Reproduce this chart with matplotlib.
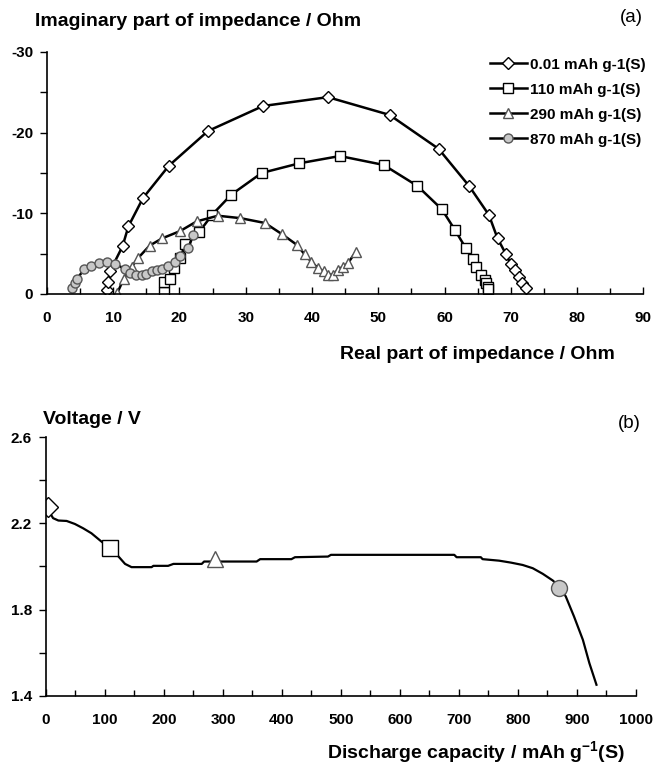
import matplotlib
matplotlib.use("Agg")
from matplotlib import pyplot as plt
from matplotlib.ticker import MultipleLocator, FixedLocator, FuncFormatter

plt.rcParams["font.family"] = ["Liberation Sans", "DejaVu Sans"]
plt.rcParams["font.weight"] = "bold"
plt.rcParams["mathtext.fontset"] = "custom"
plt.rcParams["mathtext.rm"] = "Liberation Sans:bold"
plt.rcParams["mathtext.bf"] = "Liberation Sans:bold"

# (a) Nyquist plots: real part Z' and -Z'' (Ohm)
z1_re = [9.05, 9.25, 9.5, 11.4, 12.3, 14.5, 18.4, 24.3, 32.6, 42.4, 51.7, 59.1,
         63.7, 66.7, 68.0, 69.3, 70.0, 70.6, 71.2, 71.7, 72.3]
z1_im = [0.5, 1.5, 2.8, 5.9, 8.4, 11.9, 15.9, 20.2, 23.3, 24.4, 22.2, 18.0,
         13.4, 9.8, 6.9, 4.9, 3.7, 3.0, 2.1, 1.3, 0.7]

z2_re = [17.6, 17.6, 18.6, 19.1, 20.1, 20.9, 23.0, 24.9, 27.8, 32.4, 38.1, 44.2,
         50.8, 55.9, 59.6, 61.6, 63.2, 64.3, 64.8, 65.5, 66.1, 66.3, 66.5, 66.6]
z2_im = [0.3, 1.5, 1.9, 3.2, 4.5, 6.2, 7.7, 9.8, 12.3, 15.0, 16.2, 17.1,
         16.0, 13.4, 10.5, 7.9, 5.7, 4.3, 3.3, 2.4, 1.7, 1.3, 0.9, 0.6]

z3_re = [10.6, 11.6, 12.8, 13.8, 15.5, 17.4, 20.1, 22.6, 25.8, 29.2, 32.9, 35.5,
         37.7, 38.9, 39.9, 40.9, 41.8, 42.4, 43.2, 43.9, 44.7, 45.4, 46.6]
z3_im = [0.1, 1.9, 3.4, 4.5, 6.0, 6.9, 7.8, 9.0, 9.7, 9.4, 8.8, 7.4,
         6.1, 4.9, 4.0, 3.2, 2.8, 2.4, 2.4, 3.0, 3.4, 3.8, 5.2]

z4_re = [3.8, 4.2, 4.6, 5.6, 6.6, 7.9, 9.0, 10.3, 11.8, 12.6, 13.5, 14.3, 15.0,
         15.9, 16.6, 17.4, 18.3, 19.3, 20.1, 21.3, 22.1]
z4_im = [0.8, 1.3, 1.9, 3.1, 3.5, 3.9, 4.0, 3.7, 3.1, 2.6, 2.4, 2.4, 2.5,
         2.8, 3.0, 3.1, 3.5, 4.0, 4.7, 5.7, 7.3]

labels = ["0.01 mAh g-1(S)", "110 mAh g-1(S)", "290 mAh g-1(S)", "870 mAh g-1(S)"]

# (b) discharge curve
cap = [3, 7, 12, 21, 35, 49, 63, 77, 92, 108, 123, 134, 145, 179, 182, 207, 216,
       264, 268, 357, 363, 416, 422, 478, 483, 692, 696, 737, 740, 768, 788,
       808, 825, 842, 859, 870, 881, 895, 910, 921, 933]
volt = [2.277, 2.247, 2.224, 2.213, 2.211, 2.197, 2.177, 2.154, 2.12, 2.085,
        2.046, 2.012, 1.997, 1.997, 2.003, 2.003, 2.012, 2.012, 2.023, 2.023,
        2.034, 2.034, 2.043, 2.046, 2.054, 2.054, 2.043, 2.043, 2.034, 2.027,
        2.018, 2.007, 1.992, 1.966, 1.935, 1.907, 1.861, 1.768, 1.66, 1.552, 1.452]
mark_cap = [4, 108, 286, 870]
mark_volt = [2.277, 2.085, 2.034, 1.9]

small = [
    dict(marker="D", mfc="white", mec="black", ms=6.3),
    dict(marker="s", mfc="white", mec="black", ms=6.5),
    dict(marker="^", mfc="white", mec="#555555", ms=7.5),
    dict(marker="o", mfc="#c8c8c8", mec="#555555", ms=6.5),
]
big = [
    dict(marker="D", mfc="white", mec="black", ms=10.5),
    dict(marker="s", mfc="white", mec="black", ms=11.3),
    dict(marker="^", mfc="white", mec="#555555", ms=11),
    dict(marker="o", mfc="#c8c8c8", mec="#555555", ms=11.5),
]

fig = plt.figure(figsize=(6.56, 7.71), dpi=100)

# ---- panel (a)
ax1 = fig.add_axes([0.0716, 0.6187, 0.909, 0.3139])
series = [(z1_re, z1_im), (z2_re, z2_im), (z3_re, z3_im), (z4_re, z4_im)]
for (re, im), lab, st in zip(series, labels, small):
    ax1.plot(re, [-v for v in im], color="black", lw=1.8, mew=1.0,
             label=lab, **st)
ax1.set_xlim(0, 90)
ax1.set_ylim(0, -30)
ax1.xaxis.set_major_locator(MultipleLocator(10))
ax1.xaxis.set_minor_locator(MultipleLocator(5))
ax1.yaxis.set_major_locator(MultipleLocator(10))
ax1.yaxis.set_minor_locator(MultipleLocator(5))
ax1.yaxis.set_major_formatter(FuncFormatter(lambda v, p: "%d" % v))

leg = ax1.legend(loc="upper right", bbox_to_anchor=(1.02, 1.015), frameon=False,
                 handlelength=2.4, handletextpad=0.25, labelspacing=0.72,
                 prop=dict(size=11, weight="bold"), borderaxespad=0.2)

# ---- panel (b)
ax2 = fig.add_axes([0.0701, 0.0973, 0.8994, 0.3359])
ax2.plot(cap, volt, color="black", lw=1.6)
for c, v, st in zip(mark_cap, mark_volt, big):
    ax2.plot([c], [v], color="black", ls="none", mew=1.0, **st)
ax2.set_xlim(0, 1000)
ax2.set_ylim(1.4, 2.6)
ax2.xaxis.set_major_locator(MultipleLocator(100))
ax2.xaxis.set_minor_locator(MultipleLocator(50))
ax2.yaxis.set_major_locator(FixedLocator([1.4, 1.8, 2.2, 2.6]))
ax2.yaxis.set_minor_locator(FixedLocator([1.6, 2.0, 2.4]))
ax2.yaxis.set_major_formatter(FuncFormatter(lambda v, p: "%.1f" % v))

for ax in (ax1, ax2):
    for s in ("top", "right"):
        ax.spines[s].set_visible(False)
    for s in ("left", "bottom"):
        ax.spines[s].set_linewidth(1.2)
    ax.tick_params(axis="x", which="both", direction="in", width=1.0,
                   labelsize=11, pad=12)
    ax.tick_params(axis="x", which="major", length=5)
    ax.tick_params(axis="x", which="minor", length=4)
    ax.tick_params(axis="y", which="both", direction="out", width=1.0,
                   length=5, labelsize=11, pad=5)
    for t in ax.get_xticklabels() + ax.get_yticklabels():
        t.set_fontweight("bold")

fig.text(35 / 656, 1 - 21 / 771, "Imaginary part of impedance / Ohm",
         fontsize=14, fontweight="bold", ha="left", va="center")
fig.text(643 / 656, 1 - 18 / 771, "(a)", fontsize=13.5, fontweight="normal",
         ha="right", va="center")
fig.text(615 / 656, 1 - 355 / 771, "Real part of impedance / Ohm",
         fontsize=14, fontweight="bold", ha="right", va="center")
fig.text(43 / 656, 1 - 420 / 771, "Voltage / V",
         fontsize=14, fontweight="bold", ha="left", va="center")
fig.text(641 / 656, 1 - 423 / 771, "(b)", fontsize=13.5, fontweight="normal",
         ha="right", va="center")
fig.text(625 / 656, 1 - 753 / 771, r"Discharge capacity / mAh g$^{-1}$(S)",
         fontsize=14, fontweight="bold", ha="right", va="center")

fig.savefig("out.png", dpi=100)
